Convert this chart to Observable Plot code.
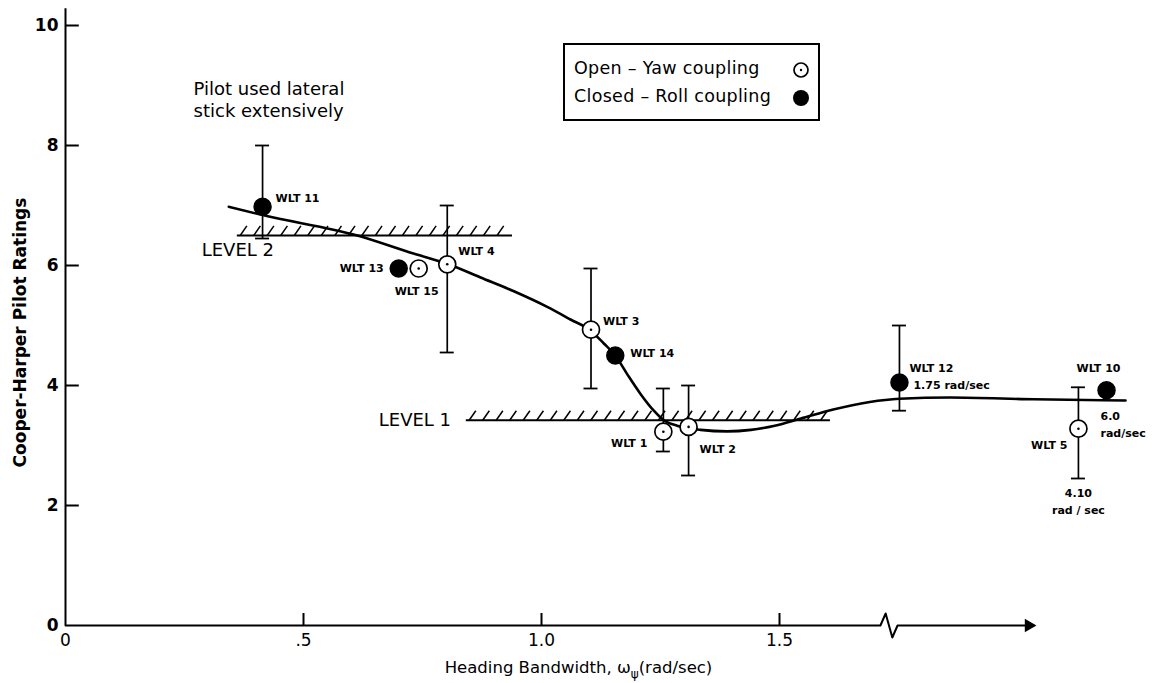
<!DOCTYPE html>
<html><head><meta charset="utf-8">
<script src="https://cdn.jsdelivr.net/npm/d3@7"></script>
<script src="https://cdn.jsdelivr.net/npm/@observablehq/plot@0.6"></script>
<style>
body{margin:0;background:#fff;}
#wrap{position:relative;width:1153px;height:683px;overflow:hidden;}
#legend{position:absolute;left:563px;top:43px;width:253px;height:74px;border:2px solid #000;font-family:"DejaVu Sans",sans-serif;font-size:17.5px;letter-spacing:0.3px;color:#000;background:#fff;}
#legend .row{position:absolute;left:9px;white-space:nowrap;}
#legend svg{position:absolute;}
</style></head>
<body><div id="wrap"></div>
<script>
// ---- data ----
const yTicks = [0, 2, 4, 6, 8, 10];
const xTicks = [0, 0.5, 1.0, 1.5];
const xTickLabels = ["0", ".5", "1.0", "1.5"];

// Open symbols: yaw coupling
const openIds = ["WLT 15", "WLT 4", "WLT 3", "WLT 1", "WLT 2", "WLT 5"];
const openX   = [0.742, 0.802, 1.104, 1.256, 1.309, 2.128];
const openY   = [5.95, 6.02, 4.93, 3.23, 3.31, 3.28];
// Closed symbols: roll coupling
const closedIds = ["WLT 11", "WLT 13", "WLT 14", "WLT 12", "WLT 10"];
const closedX   = [0.414, 0.700, 1.155, 1.752, 2.187];
const closedY   = [6.98, 5.95, 4.50, 4.05, 3.92];

// Rating ranges (error bars)
const errIds = ["WLT 11", "WLT 4", "WLT 3", "WLT 1", "WLT 2", "WLT 12", "WLT 5"];
const errLo  = [6.45, 4.55, 3.95, 2.90, 2.50, 3.58, 2.45];
const errHi  = [8.00, 7.00, 5.95, 3.95, 4.00, 5.00, 3.97];

// Faired curve
const curveX = [0.343, 0.414, 0.613, 0.731, 0.802, 0.872, 0.942, 1.012, 1.061, 1.104, 1.131, 1.155, 1.180, 1.208, 1.236, 1.257, 1.285, 1.334, 1.390, 1.440, 1.490, 1.545, 1.613, 1.752, 1.859, 2.034, 2.227];
const curveY = [6.98, 6.84, 6.50, 6.20, 6.03, 5.80, 5.57, 5.31, 5.10, 4.91, 4.70, 4.50, 4.19, 3.86, 3.58, 3.42, 3.33, 3.26, 3.235, 3.26, 3.33, 3.45, 3.60, 3.78, 3.80, 3.77, 3.75];

// Handling-qualities level boundaries
const levelNames = ["LEVEL 1", "LEVEL 2"];
const levelY  = [3.42, 6.50];
const levelX1 = [0.842, 0.361];
const levelX2 = [1.607, 0.939];
const levelLabelX = [0.810, 0.438];
const levelLabelY = [3.42, 6.25];

// Rate annotations beside symbols
const noteIds   = ["WLT 12", "WLT 10", "WLT 5"];
const noteTexts = ["1.75 rad/sec", "6.0\nrad/sec", "4.10\nrad / sec"];

const remark = "Pilot used lateral\nstick extensively";
const remarkX = 0.269, remarkY = 8.77;

// Axis break of the x axis
const axisBreakX = [0, 1.712, 1.723, 1.737, 1.748, 2.034];
const axisBreakY = [0, 0, 0.2, -0.2, 0, 0];

// ---- tables ----
const openPts = openIds.map((id, i) => ({id, x: openX[i], y: openY[i]}));
const closedPts = closedIds.map((id, i) => ({id, x: closedX[i], y: closedY[i]}));
const allPts = [...openPts, ...closedPts];
const byId = new Map(allPts.map(d => [d.id, d]));
const errs = errIds.map((id, i) => ({x: byId.get(id).x, lo: errLo[i], hi: errHi[i]}));
const caps = errs.flatMap(d => [{x: d.x, v: d.lo}, {x: d.x, v: d.hi}]);
const curve = curveX.map((x, i) => ({x, y: curveY[i]}));
const levels = levelNames.map((name, i) => ({name, y: levelY[i], x1: levelX1[i], x2: levelX2[i], lx: levelLabelX[i], ly: levelLabelY[i]}));
const hatchStep = 0.0284, hatchW = 0.014, hatchH = 0.16;
const hatches = levels.flatMap(l => d3.range(l.x1 + 0.006, l.x2 - 0.01, hatchStep).map(x => ({x1: x, y1: l.y, x2: x + hatchW, y2: l.y + hatchH})));
const axisPath = axisBreakX.map((x, i) => ({x, y: axisBreakY[i]}));
const xLabelMap = new Map(xTicks.map((t, i) => [t, xTickLabels[i]]));

// ---- layout (label offsets in px) ----
const labelLayout = {
  "WLT 11": [13, -8, "start"],
  "WLT 13": [-15, 0, "end"],
  "WLT 15": [-2, 23, "middle"],
  "WLT 4":  [11, -13, "start"],
  "WLT 3":  [12, -8, "start"],
  "WLT 14": [15, -2, "start"],
  "WLT 1":  [-16, 12, "end"],
  "WLT 2":  [11, 23, "start"],
  "WLT 12": [10, -14, "start"],
  "WLT 10": [-8, -22, "middle"],
  "WLT 5":  [-11, 17, "end"]
};
const noteLayout = {
  "WLT 12": [14, 1, "start", "middle"],
  "WLT 10": [-6, 18, "start", "top"],
  "WLT 5":  [0, 57, "middle", "top"]
};

const font = "DejaVu Sans";
const marks = [
  // axes
  Plot.axisY({ticks: yTicks, tickSize: 0, tickPadding: 7, fontSize: 17, fontWeight: "bold", label: null}),
  Plot.axisX({ticks: xTicks, tickFormat: d => xLabelMap.get(d), tickSize: 0, tickPadding: 8, fontSize: 17, label: null}),
  Plot.ruleX([0], {y1: 0, y2: 10.28, strokeWidth: 2}),
  Plot.ruleY(yTicks.filter(t => t > 0), {x1: 0, x2: 0.029, strokeWidth: 2}),
  Plot.ruleX(xTicks.filter(t => t > 0), {y1: 0, y2: 0.2, strokeWidth: 2}),
  Plot.line(axisPath, {x: "x", y: "y", strokeWidth: 2}),
  Plot.dot([axisPath[axisPath.length - 1]], {x: "x", y: "y", symbol: "triangle", rotate: 90, r: 5, fill: "black", dx: -5}),
  Plot.text(["Cooper-Harper Pilot Ratings"], {frameAnchor: "left", textAnchor: "middle", rotate: -90, dx: -45, dy: 7, fontSize: 17, fontWeight: "bold"}),
  Plot.text(["Heading Bandwidth, ωψ(rad/sec)"], {frameAnchor: "bottom", textAnchor: "middle", dy: 47, dx: 37, fontSize: 16.5, className: "xlab"}),
  // level boundaries
  Plot.ruleY(levels, {x1: "x1", x2: "x2", y: "y", strokeWidth: 2}),
  Plot.link(hatches, {x1: "x1", y1: "y1", x2: "x2", y2: "y2", strokeWidth: 1.5}),
  Plot.text(levels, {x: "lx", y: "ly", text: "name", textAnchor: "end", fontSize: 18, letterSpacing: "3.5px"}),
  // remark
  Plot.text([remark], {x: remarkX, y: remarkY, textAnchor: "start", fontSize: 18, letterSpacing: "0.4px", lineHeight: 1.22}),
  // curve
  Plot.line(curve, {x: "x", y: "y", curve: "monotone-x", strokeWidth: 2.6}),
  // error bars
  Plot.ruleX(errs, {x: "x", y1: "lo", y2: "hi", strokeWidth: 1.7}),
  Plot.ruleY(caps, {x1: "x", x2: "x", y: "v", insetLeft: -7, insetRight: -7, strokeWidth: 1.8}),
  // symbols
  Plot.dot(closedPts, {x: "x", y: "y", r: 8.5, fill: "black", stroke: "black"}),
  Plot.dot(openPts, {x: "x", y: "y", r: 8.5, fill: "white", stroke: "black", strokeWidth: 1.7}),
  Plot.dot(openPts, {x: "x", y: "y", r: 1.3, fill: "black"}),
  // labels
  ...allPts.map(p => {
    const [dx, dy, anchor] = labelLayout[p.id];
    return Plot.text([p], {x: "x", y: "y", text: "id", dx, dy, textAnchor: anchor, fontSize: 11, fontWeight: "bold"});
  }),
  ...noteIds.map((id, i) => {
    const [dx, dy, anchor, la] = noteLayout[id];
    return Plot.text([byId.get(id)], {x: "x", y: "y", text: () => noteTexts[i], dx, dy, textAnchor: anchor, lineAnchor: la, lineHeight: 1.5, fontSize: 11, fontWeight: "bold", letterSpacing: "0.4px"});
  })
];

const chart = Plot.plot({
  width: 1153, height: 683,
  marginLeft: 65, marginRight: 136, marginTop: 25, marginBottom: 58,
  x: {domain: [0, 2]},
  y: {domain: [0, 10]},
  style: {fontFamily: font, color: "#000", background: "#fff", overflow: "visible"},
  marks
});

// subscript psi in x-axis label
const xl = chart.querySelector(".xlab text");
if (xl) {
  xl.textContent = "";
  const ns = "http://www.w3.org/2000/svg";
  const parts = [["Heading Bandwidth, ω", null, null], ["ψ", 5, 12], ["(rad/sec)", -5, null]];
  for (const [t, dy, fs] of parts) {
    const ts = document.createElementNS(ns, "tspan");
    ts.textContent = t;
    if (dy != null) ts.setAttribute("dy", dy);
    if (fs) ts.setAttribute("font-size", fs);
    xl.appendChild(ts);
  }
}

const wrap = document.getElementById("wrap");
wrap.appendChild(chart);

// legend
const legend = document.createElement("div");
legend.id = "legend";
legend.innerHTML = `
  <div class="row" style="top:13px">Open – Yaw coupling</div>
  <div class="row" style="top:41px">Closed – Roll coupling</div>
  <svg width="20" height="20" style="left:226px;top:15px"><circle cx="10" cy="10" r="7" fill="white" stroke="black" stroke-width="1.7"/><circle cx="10" cy="10" r="1.2" fill="black"/></svg>
  <svg width="20" height="20" style="left:226px;top:43px"><circle cx="10" cy="10" r="8" fill="black"/></svg>`;
wrap.appendChild(legend);
</script>
</body></html>
